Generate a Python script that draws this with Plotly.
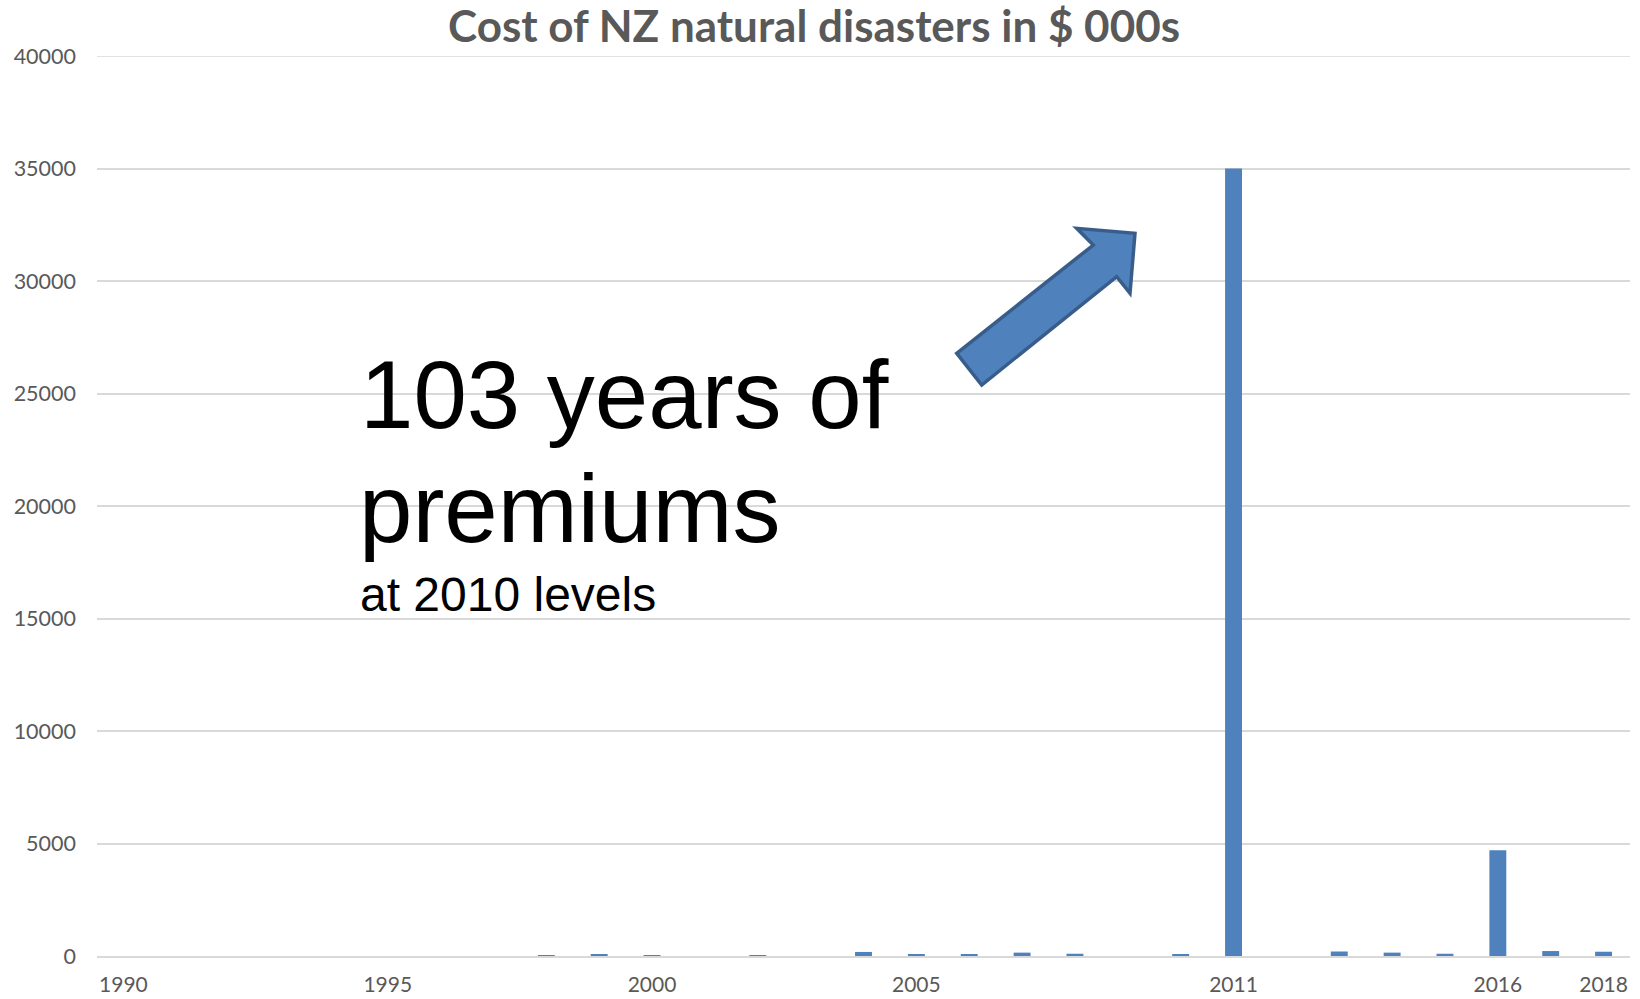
import plotly.graph_objects as go

# ---- data ----
years = list(range(1990, 2019))
costs = [0, 0, 0, 0, 0, 0, 0, 0,       # 1990-1997
         30, 50, 10, 0, 10, 0,         # 1998-2003
         180, 60, 50, 150, 100, 0,     # 2004-2009
         70, 35000, 0, 200, 150, 100,  # 2010-2015
         4700, 220, 190]               # 2016-2018
tick_years = [1990, 1995, 2000, 2005, 2011, 2016, 2018]
y_ticks = list(range(0, 40001, 5000))

title_text = "Cost of NZ natural disasters in $ 000s"
big_line1 = "103 years of"
big_line2 = "premiums"
small_line = "at 2010 levels"

# the body margin is removed in the page, so figure pixels == page pixels
OFF = 0
W, H = 1640 - OFF, 999 - OFF
PL, PR, PT, PB = 97, 1630, 56, 956          # plot area in page pixels
L, R, T, B = PL - OFF, W - (PR - OFF), PT - OFF, H - (PB - OFF)
PW, PH = PR - PL, PB - PT


def px(xp):
    return (xp - PL) / PW


def py(yp):
    return (PB - yp) / PH


fig = go.Figure()
fig.add_trace(go.Bar(
    x=years, y=costs, width=0.32,
    marker=dict(color="#4F81BD", line=dict(width=0)),
    hoverinfo="x+y",
))

# top gridline (plotly omits the gridline at the range edge)
fig.add_shape(type="line", xref="paper", yref="y", x0=0, x1=1,
              y0=y_ticks[-1], y1=y_ticks[-1], line=dict(color="#D9D9D9", width=1.5),
              layer="below")

# arrow (decorative shape), page-pixel outline points
arrow_px = [(956.7, 353.3), (1093.3, 245.0), (1076.7, 228.3), (1135.0, 233.3),
            (1130.0, 293.3), (1116.7, 276.7), (981.7, 385.0)]
path = "M " + " L ".join(f"{px(a):.5f},{py(b):.5f}" for a, b in arrow_px) + " Z"
fig.add_shape(type="path", path=path, xref="paper", yref="paper",
              fillcolor="#4F81BD", line=dict(color="#385D8A", width=3.5))

ann_font = "Liberation Sans, Arial, sans-serif"
fig.add_annotation(text=big_line1, xref="paper", yref="paper",
                   x=px(358), y=py(394), xanchor="left", yanchor="middle",
                   showarrow=False, font=dict(family=ann_font, size=96, color="#000000"))
fig.add_annotation(text=big_line2, xref="paper", yref="paper",
                   x=px(357), y=py(508), xanchor="left", yanchor="middle",
                   showarrow=False, font=dict(family=ann_font, size=96, color="#000000"))
fig.add_annotation(text=small_line, xref="paper", yref="paper",
                   x=px(358), y=py(594), xanchor="left", yanchor="middle",
                   showarrow=False, font=dict(family=ann_font, size=48, color="#000000"))

fig.update_layout(
    width=W, height=H,
    margin=dict(l=L, r=R, t=T, b=B, autoexpand=False),
    paper_bgcolor="white", plot_bgcolor="white",
    showlegend=False,
    title=dict(text=title_text, x=(814 - OFF) / W, xref="container", xanchor="center",
               y=1 - (27 - OFF) / H, yref="container", yanchor="middle",
               font=dict(family="Lato, Carlito, sans-serif", size=44, color="#595959",
                         weight="bold")),
    font=dict(family="Lato, Carlito, sans-serif", color="#595959"),
)
fig.update_xaxes(range=[1989.5, 2018.5], tickmode="array", tickvals=tick_years,
                 ticktext=[str(t) for t in tick_years], automargin=False,
                 showgrid=False, showline=True, linecolor="#D9D9D9", linewidth=1.5,
                 ticks="", tickfont=dict(size=21, color="#595959"),
                 ticklabelstandoff=9, zeroline=False, fixedrange=True)
fig.update_yaxes(range=[0, 40000], tickmode="array", tickvals=y_ticks,
                 ticktext=[str(t) for t in y_ticks], automargin=False,
                 showgrid=True, gridcolor="#D9D9D9", gridwidth=1.5,
                 showline=False, zeroline=False, ticks="",
                 tickfont=dict(size=21.5, color="#595959"),
                 ticklabelstandoff=20, fixedrange=True)

fig.write_html("out.html",
               config={"displayModeBar": False},
               post_script="document.body.style.margin='0px';"
                           "document.body.style.overflow='hidden';")
